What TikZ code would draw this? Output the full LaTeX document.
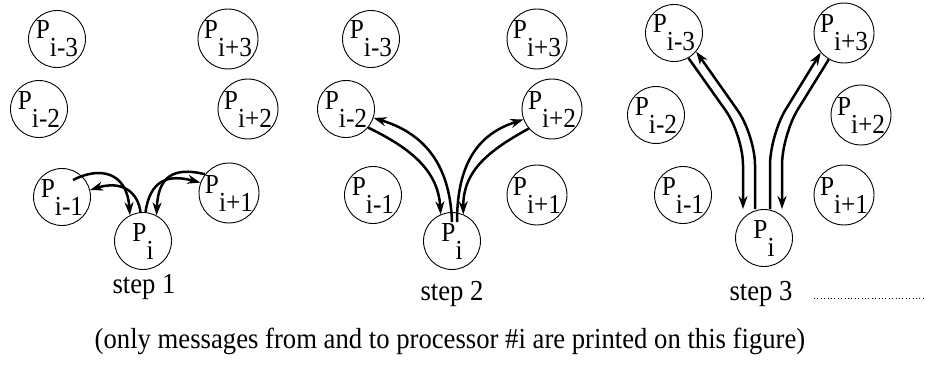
\documentclass[tikz,border=0pt]{standalone}
\usepackage{fontspec}
\setmainfont[FakeStretch=0.92]{Liberation Serif}
\usetikzlibrary{arrows.meta}
\tikzset{
  proc/.style={draw, circle, line width=0.9pt, minimum size=57pt, inner sep=0pt,
               font=\fontsize{27.5}{32}\selectfont},
  msg/.style={line width=2.5pt, -{Stealth[length=13pt,width=9pt]}},
  lbl/.style={font=\fontsize{29}{34}\selectfont, inner sep=0pt},
}
% processor label: P with its index set full size and lowered
\newcommand\pname[1]{P\raisebox{-18pt}{#1}}
\begin{document}
\begin{tikzpicture}[x=1pt,y=-1pt]
\useasboundingbox (0,0) rectangle (925,367);

% ---------- step 1 ----------
\node[proc] (a3m) at (57,39)  {\pname{i-3}};
\node[proc] (a3p) at (228,39) {\pname{i+3}};
\node[proc] (a2m) at (39,109) {\pname{i-2}};
\node[proc] (a2p) at (248,109){\pname{i+2}};
\node[proc] (a1m) at (62,197) {\pname{i-1}};
\node[proc] (a1p) at (229,193){\pname{i+1}};
\node[proc] (ai)  at (143,241){\pname{i}};
\node[lbl]  (s1)  at (144,287){step 1};

\draw[msg] ([shift={(11pt,17pt)}]a1m.center) .. controls (100,166) and (127,172) .. (ai.117);
\draw[msg] (ai.95) .. controls (138,192) and (122,180) .. (a1m.14);
\draw[msg] (ai.85) .. controls (150,180) and (168,174) .. (a1p.160);
\draw[msg] (a1p.142) .. controls (172,166) and (158,178) .. (ai.62);

% ---------- step 2 ----------
\node[proc] (b3m) at (371,39) {\pname{i-3}};
\node[proc] (b3p) at (537,39) {\pname{i+3}};
\node[proc] (b2m) at (346,109){\pname{i-2}};
\node[proc] (b2p) at (552,109){\pname{i+2}};
\node[proc] (b1m) at (373,195){\pname{i-1}};
\node[proc] (b1p) at (537,195){\pname{i+1}};
\node[proc] (bi)  at (452,241){\pname{i}};
\node[lbl]  (s2)  at (452,294){step 2};

\draw[msg] (b2m.-40) .. controls (410,148) and (438,170) .. (bi.113);
\draw[msg] ([yshift=19pt]bi.center) .. controls (450,160) and (420,132) .. (b2m.-18);
\draw[msg] ([shift={(5pt,19pt)}]bi.center) .. controls (457,155) and (485,132) .. (b2p.200);
\draw[msg] (b2p.220) .. controls (490,150) and (463,170) .. (bi.67);

% ---------- step 3 ----------
\node[proc] (c3m) at (674,33) {\pname{i-3}};
\node[proc] (c3p) at (844,33) {\pname{i+3}};
\node[proc] (c2m) at (656,115){\pname{i-2}};
\node[proc] (c2p) at (861,115){\pname{i+2}};
\node[proc] (c1m) at (683,195){\pname{i-1}};
\node[proc] (c1p) at (844,195){\pname{i+1}};
\node[proc] (ci)  at (764,238){\pname{i}};
\node[lbl]  (s3)  at (761,294){step 3};

\draw[msg, rounded corners=30pt] (c3m.-60) -- (743,135) -- ([xshift=-21pt]ci.north);
\draw[msg, rounded corners=30pt] ([xshift=-9pt]ci.north) -- (755,135) -- (c3m.-40);
\draw[msg, rounded corners=30pt] ([xshift=6pt]ci.north) -- (770,135) -- (c3p.-140);
\draw[msg, rounded corners=30pt] (c3p.-120) -- (782,135) -- ([xshift=18pt]ci.north);

% trailing dots after the last step
\coordinate (dotstart) at (814,298);
\coordinate (dotend)   at (923,298);
\draw[line width=1pt, dash pattern=on 1pt off 2.4pt] (dotstart) -- (dotend);

% ---------- caption ----------
\node[lbl] (cap) at (450,341) {(only messages from and to processor \#i are printed on this figure)};
\end{tikzpicture}
\end{document}
